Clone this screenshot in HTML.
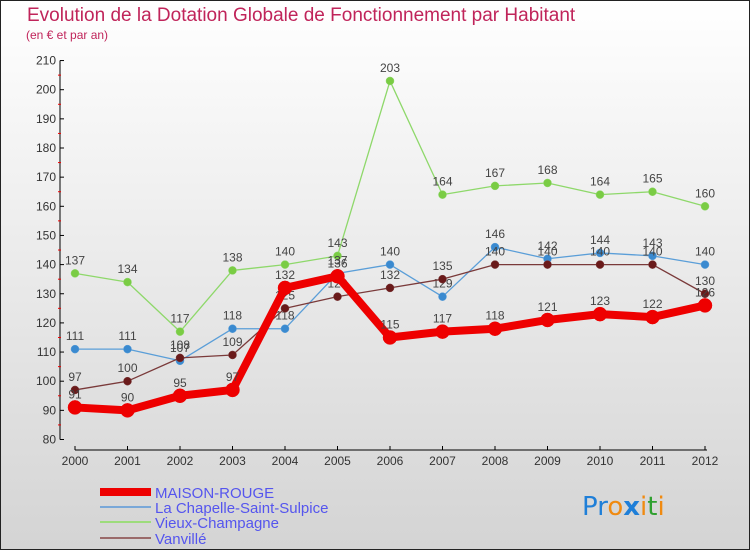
<!DOCTYPE html>
<html><head><meta charset="utf-8"><style>
body{margin:0;width:750px;height:550px;overflow:hidden;font-family:"Liberation Sans",sans-serif}
</style></head><body>
<svg width="750" height="550" xmlns="http://www.w3.org/2000/svg" id="chart">
<defs><linearGradient id="bg" x1="0" y1="0" x2="0" y2="1"><stop offset="0" stop-color="#ffffff"/><stop offset="1" stop-color="#d4d4d4"/></linearGradient></defs>
<rect x="0.5" y="0.5" width="749" height="549" fill="url(#bg)" stroke="#222"/>
<text x="27" y="21" font-size="19" fill="#c0245a">Evolution de la Dotation Globale de Fonctionnement par Habitant</text>
<text x="26" y="39" font-size="12" fill="#c0245a">(en € et par an)</text>
<g id="axes"></g><g id="series"></g>
<g font-size="15" fill="#5555ee">
<rect x="100" y="488" width="51" height="8" fill="#ee0000"/><text x="155" y="498">MAISON-ROUGE</text>
<rect x="100" y="506" width="51" height="2" fill="#7aa8d8"/><text x="155" y="513">La Chapelle-Saint-Sulpice</text>
<rect x="100" y="521" width="51" height="2" fill="#9ddc7c"/><text x="155" y="528">Vieux-Champagne</text>
<rect x="100" y="537" width="51" height="2" fill="#9a6a6a"/><text x="155" y="544">Vanvillé</text>
</g>
<g font-size="26" font-family="DejaVu Sans, sans-serif">
<text x="582" y="515"><tspan fill="#1f7fd8">Pr</tspan><tspan fill="#f08a10">o</tspan><tspan fill="#1f7fd8" font-weight="bold">x</tspan><tspan fill="#f08a10">i</tspan><tspan fill="#30a030">t</tspan><tspan fill="#f08a10">i</tspan></text>
</g>
</svg>
<script>
const years=[2000,2001,2002,2003,2004,2005,2006,2007,2008,2009,2010,2011,2012];
const yTicks=[80,90,100,110,120,130,140,150,160,170,180,190,200,210];
const maisonRouge=[91,90,95,97,132,136,115,117,118,121,123,122,126];
const chapelle=[111,111,107,118,118,137,140,129,146,142,144,143,140];
const vieux=[137,134,117,138,140,143,203,164,167,168,164,165,160];
const vanville=[97,100,108,109,125,129,132,135,140,140,140,140,130];
const NS="http://www.w3.org/2000/svg";
const X=i=>75+i*(630/12);
const Y=v=>439.5-(v-80)*2.915;
function mk(tag,attrs,parent,txt){const e=document.createElementNS(NS,tag);for(const k in attrs)e.setAttribute(k,attrs[k]);if(txt!==undefined)e.textContent=txt;parent.appendChild(e);return e;}
const ax=document.getElementById('axes');
let a=mk('line',{x1:60,y1:Y(210),x2:60,y2:Y(80),stroke:'#000'},ax);


yTicks.forEach(t=>{
  mk('line',{x1:60,y1:Y(t),x2:64,y2:Y(t),stroke:'#000'},ax);
  if(t<210)mk('line',{x1:58,y1:Y(t+5),x2:61,y2:Y(t+5),stroke:'#e00'},ax);
  const l=mk('text',{x:56,y:Y(t)+4,'font-size':12,'text-anchor':'end',fill:'#333'},ax,t);
  
  
});
a=mk('line',{x1:75,y1:450,x2:707,y2:450,stroke:'#000'},ax);


years.forEach((y,i)=>{
  mk('line',{x1:X(i),y1:446,x2:X(i),y2:450,stroke:'#000'},ax);
  const l=mk('text',{x:X(i),y:465,'font-size':12,'text-anchor':'middle',fill:'#333'},ax,y);
  
  
});
const sg=document.getElementById('series');
function draw(data,name,color,dot,w,r){
  const g=mk('g',{},sg);
  
  
  mk('polyline',{points:data.map((v,i)=>X(i)+','+Y(v)).join(' '),fill:'none',stroke:color,'stroke-width':w,'stroke-linejoin':'round'},g);
  data.forEach((v,i)=>{
    const c=mk('circle',{cx:X(i),cy:Y(v),r:r,fill:dot,stroke:color,'stroke-width':0.5},g);
    
    
    mk('text',{x:X(i),y:Y(v)-9,'font-size':12,'text-anchor':'middle',fill:'#444'},g,v);
  });
}
draw(vieux,'vieux-champagne-series','#8ed86a','#7acc44',1.3,4);
draw(chapelle,'la-chapelle-series','#5a9ed8','#3a8ad0',1.3,4);
draw(vanville,'vanville-series','#7a3a3a','#6a1a1a',1.3,4);
draw(maisonRouge,'maison-rouge-series','#ee0000','#ee0000',8,7);
</script>
</body></html>
